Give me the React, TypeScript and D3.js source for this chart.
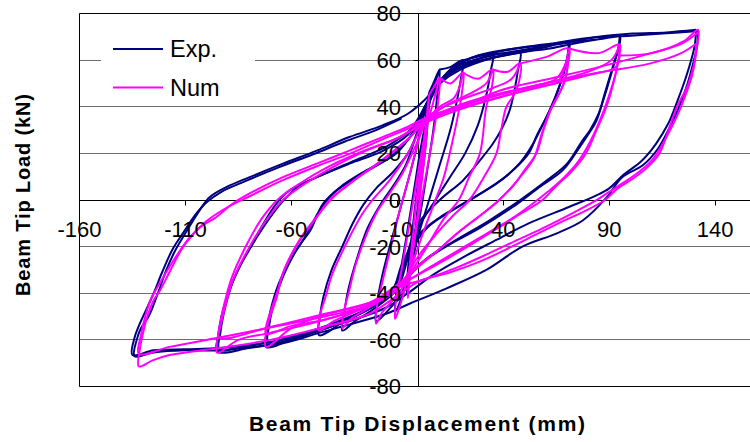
import * as d3 from 'd3'

type Pt = [number, number]

const xTicks = [-160, -110, -60, -10, 40, 90, 140]
const yTicks = [80, 60, 40, 20, 0, -20, -40, -60, -80]
const seriesNames = ['Exp.', 'Num']
const seriesColors = ['#000080', '#ff00ff']

// experimental loops, one array per cycle (positive peak -> negative peak -> next positive peak)
const expCycles: Pt[][] = [
  [[0, 0], [2, 20], [4, 38], [5, 46], [4.5, 36], [3, 20], [0, 0], [-2, -18], [-4, -32], [-5.5, -40], [-5, -30], [-3, -14], [-1, 2], [1.5, 20], [3.5, 36], [5, 46]],
  [[5, 46], [7, 50], [10, 56], [9, 46], [7, 30], [4, 12], [1, -5], [-2, -20], [-5, -33], [-8, -42], [-11, -48], [-10.5, -40], [-8, -28], [-5, -12], [-2, 5], [1, 22], [4, 36], [7, 48], [10, 56]],
  [[10, 56], [15, 57], [21, 60], [20, 52], [18, 42], [15, 30], [10, 15], [5, 0], [0, -15], [-4, -30], [-8, -40], [-15, -48], [-20, -52], [-19.5, -44], [-17, -32], [-13, -18], [-9, -5], [-5, 8], [-1, 22], [3, 38], [8, 48], [15, 55], [21, 60]],
  [[21, 60], [28, 61.5], [35, 62.8], [34, 55], [32, 45], [28, 32], [22, 20], [15, 10], [8, 0], [0, -12], [-5, -25], [-10, -38], [-20, -46], [-30, -52], [-36, -56], [-35, -48], [-33, -38], [-29, -25], [-24, -12], [-18, -2], [-12, 6], [-6, 15], [-1, 28], [4, 42], [12, 52], [22, 58], [35, 62.8]],
  [[35, 62.8], [42, 63], [48, 63.3], [47, 56], [45.5, 48], [43, 38.4], [39, 30], [35, 24], [29, 17], [21, 8.4], [10, 0], [0, -10], [-6, -25], [-10, -36], [-20, -44], [-35, -52], [-47, -58], [-46.5, -50], [-45, -42], [-41, -30], [-36, -20], [-31, -10], [-26, -2], [-20, 5], [-12, 12], [-5, 20], [0, 30], [5, 42], [12, 52], [22, 58], [35, 61], [48, 63.3]],
  [[48, 63.3], [60, 65.5], [71, 67.6], [70, 60], [67, 50], [62, 38.4], [56, 28], [52, 20], [44.6, 12.7], [36.8, 7], [21, -1.6], [10, -7.5], [0, -15], [-8, -28], [-12, -38], [-22, -46], [-35, -52], [-50, -57], [-60, -60], [-72, -63], [-71.5, -56], [-70, -48], [-66, -36], [-60, -25], [-55, -18], [-51, -13], [-45, -1.5], [-37, 5.5], [-24.7, 12.7], [-10.5, 20], [-2, 30], [3, 40], [10, 50], [20, 58], [35, 62], [50, 64.5], [60, 66], [71, 67.6]],
  [[71, 67.6], [70.2, 61], [68, 53], [64, 43], [59, 33], [54, 24], [48, 16], [41, 10], [28, 2], [15, -5], [4, -12], [-5, -24], [-10, -36], [-20, -45], [-35, -51], [-50, -56], [-62, -59], [-71, -61], [-70.5, -54], [-68.5, -45], [-64, -33], [-58, -22], [-53, -15], [-47, -5], [-40, 3], [-28, 10.5], [-14, 18], [-4, 27], [2, 38], [8, 48], [18, 56], [33, 60.5], [50, 63.5], [62, 65], [70, 66.5]],
  [[70, 66.5], [85, 69], [95, 70.5], [94, 64], [92, 58], [88, 46], [84, 34], [80, 28], [76, 22.6], [68, 12.7], [57, 5.5], [44.5, -3], [29, -12], [13, -20], [0, -28], [-8, -36], [-20, -45], [-35, -52], [-50, -57], [-65, -61], [-80, -63.5], [-95, -65], [-94.5, -58], [-93, -50], [-89, -38], [-84, -28], [-79, -20], [-75, -13], [-67, -1.5], [-61, 4], [-48, 9.8], [-32.6, 15.6], [-17, 21], [-5, 28], [2, 38], [8, 48], [15, 56], [25, 61], [40, 64], [55, 66], [70, 67.6], [85, 69], [95, 70.5]],
  [[95, 70.5], [94.3, 65], [92.5, 59], [89, 48], [85, 37], [81, 30], [77, 25], [70, 15.5], [60, 8], [48, 0], [33, -9], [17, -17.5], [4, -25], [-6, -34], [-17, -43], [-33, -50.5], [-48, -55.5], [-64, -60], [-80, -62.5], [-94, -64], [-93.5, -57], [-92, -49], [-88, -36], [-83, -26], [-77, -17], [-72, -10], [-64, -0.5], [-57, 5.5], [-45, 11], [-30, 17], [-15, 23], [-4, 30], [3, 40], [9, 50], [17, 57], [28, 62], [45, 65], [62, 67], [80, 69.5], [100, 70.5], [117, 71.5], [132, 72.5]],
  [[132, 72.5], [131.5, 66], [130, 60], [127, 50], [123, 40], [119, 32], [113, 22], [106, 15], [96, 9.7], [88.7, 1], [77.5, -8.8], [65, -14.4], [49, -20], [32, -30], [13, -38], [-4, -44.4], [-15, -48.7], [-31, -53], [-47, -57], [-62, -61], [-78, -63], [-94, -64.5], [-110, -64.5], [-125, -65.4], [-134, -67], [-133, -60], [-131, -55], [-127.4, -50], [-123, -40], [-119, -30], [-115, -22], [-111, -15.7], [-103, -4], [-98.6, 1.2], [-90.7, 5.5], [-79.7, 9.8], [-64, 15.6], [-48, 21.2], [-32.6, 27], [-17, 32], [-5, 37], [3, 43], [10, 50], [20, 56], [35, 61], [54, 65], [70, 67.6], [85, 70], [101, 71.4], [117, 71.9], [131, 73]],
  [[131, 73], [130.5, 67], [129, 61], [126, 52], [122, 42], [118, 33], [112, 24], [105, 16.5], [97, 11], [90, 5], [84, 2], [71, -3], [52, -10], [37, -17], [21, -24.6], [7, -32], [-5, -40], [-15, -46], [-31, -51.5], [-47, -55.5], [-62, -59.5], [-78, -62], [-94, -63.5], [-110, -64], [-125, -64.5], [-135, -66.5], [-134, -59], [-132, -54], [-129, -48], [-125, -40], [-121, -31], [-116, -21], [-111, -14], [-105, -6], [-100, -1], [-93, 3.5], [-82, 8], [-66, 14], [-50, 19.5], [-35, 25], [-20, 30], [-8, 35]],
]

// numerical loops
const numCycles: Pt[][] = [
  [[0, 0], [2, 18], [4, 35], [5, 45], [4.5, 36], [3, 20], [0.5, 0], [-2, -18], [-4, -32], [-5, -42], [-4.5, -33], [-3, -18], [-1, 0], [1.5, 18], [3.5, 33], [5, 45]],
  [[5, 45], [7, 48], [10, 52.5], [9.5, 44], [8, 34], [5, 18], [2, 3], [-1, -12], [-4, -28], [-7, -40], [-9, -46], [-11, -51], [-10.5, -42], [-8, -30], [-5, -14], [-2, 2], [1, 18], [4, 32], [7, 42], [10, 52.5]],
  [[10, 52.5], [15, 50], [21, 54.7], [20.5, 46], [19, 38], [16, 25], [12, 10], [8, 0], [3, -12], [-2, -25], [-6, -35], [-12, -43], [-17, -48], [-20, -53], [-19.5, -45], [-17, -35], [-13, -20], [-9, -5], [-5, 8], [-1, 22], [3, 33], [10, 40], [17, 44], [21, 54.7]],
  [[21, 54.7], [28, 52], [35, 56], [34.5, 48], [32, 40], [29, 20], [24, 10], [19, 0], [12, -8], [4, -20], [-3, -30], [-10, -38], [-25, -47], [-32, -51], [-36, -55], [-35, -47], [-33, -40], [-29.4, -27], [-20, -5.8], [-13.7, 2.8], [-7.6, 11.4], [-1, 24], [4, 34], [12, 40], [25, 46], [32, 50], [35, 56]],
  [[35, 56], [42, 55], [48, 58.6], [47.5, 51], [45, 45], [41.5, 40], [39, 30], [36.8, 20], [31, 10], [24, 0], [16, -7], [8, -15], [0, -24], [-6, -33], [-12, -40], [-25, -46], [-40, -52], [-47, -56], [-46.7, -50], [-44, -42], [-40.6, -31.6], [-32.6, -16], [-26.4, -5.8], [-21.7, 0], [-13.7, 8.4], [-5, 20], [2, 32], [8, 38], [20, 43], [35, 48], [44, 52], [48, 58.6]],
  [[48, 58.6], [60, 61.3], [71, 65], [70.5, 58], [69, 51], [66, 45], [63, 40], [59, 30], [55.6, 20], [50, 12.7], [44.6, 6], [38, 0], [30, -6], [20, -13], [10, -21], [0, -28], [-8, -35], [-23, -44], [-47, -50], [-60, -55], [-72, -63], [-71.8, -56], [-70, -50], [-67, -42], [-64, -31.6], [-56, -17.4], [-48, -7.4], [-42, 0], [-32.6, 7], [-17, 17], [-5, 26], [4, 34], [20, 41], [40, 46], [55, 49], [65, 52], [70.5, 61]],
  [[70.5, 61], [70.3, 57], [68.5, 50], [65.5, 44], [62, 38], [58, 28], [54.5, 18], [49, 11], [43, 4.5], [37, -1], [28, -7.5], [18, -14.5], [8, -22.5], [-1, -29.5], [-9, -36.5], [-25, -45.5], [-45, -51.5], [-60, -54], [-72, -57.5], [-71.6, -53], [-69.5, -47], [-66.5, -39], [-63, -29], [-55, -15.5], [-47, -6], [-40.5, 1], [-31, 8], [-16, 18], [-4, 27], [4, 35], [22, 40], [40, 44.5], [56, 48.5], [66, 51], [71, 65]],
  [[71, 65], [85, 63], [95, 66.7], [94.3, 60], [92.5, 52], [88.7, 40], [84, 30], [79, 20], [72, 12], [65, 6], [58.5, 0], [48, -6], [38, -11.8], [25, -19], [12, -26], [0, -32], [-8, -36], [-23, -45], [-47, -52], [-70, -57], [-85, -60], [-95, -65.5], [-94.8, -59], [-94, -56], [-91, -45], [-87.6, -34.5], [-79.7, -20], [-72, -8.8], [-64, 0], [-56, 5.5], [-40.6, 14], [-24.7, 21.2], [-9, 27], [4, 34], [20, 40], [38, 45], [60, 50], [80, 55], [91, 60], [95, 66.7]],
  [[95, 66.7], [94.5, 61], [93, 54], [90, 45], [86, 35], [81, 25], [75, 16], [68, 9], [61, 3.5], [54, -1.5], [44, -8], [32, -14.5], [19, -21.5], [6, -28.5], [-4, -34], [-20, -43], [-45, -49], [-70, -54.5], [-94, -59], [-93.6, -53], [-91.5, -44], [-88, -33], [-81, -19], [-74, -8], [-66, 0.5], [-57, 6.5], [-42, 14.5], [-26, 21], [-10, 26.5], [3, 33], [20, 39], [38, 44], [60, 49], [80, 53.5], [93, 57], [95, 62]],
  [[95, 62], [110, 63], [125, 68], [132, 73], [131.5, 66], [130, 58], [127, 49], [122, 40], [118, 30], [113.7, 20], [108, 14], [101, 9], [94, 5], [88, 0], [78, -5], [66, -10], [55, -15], [44, -20], [30, -26], [15, -31], [0, -35], [-10, -41], [-23, -48.7], [-46.7, -55], [-70, -60], [-94, -63.5], [-117.5, -66.5], [-125.5, -68.8], [-132, -71.4], [-131.5, -64], [-130, -57], [-128, -50], [-125, -43], [-122, -38.8], [-117, -30], [-111, -20], [-103, -11.7], [-95.5, -7.4], [-87.6, -1.5], [-79.7, 2.8], [-64, 9.8], [-48, 15.6], [-32.6, 21.2], [-17, 27], [-5, 31.5], [4, 35.5], [20, 40.5], [38.5, 45.6], [62, 50.5], [85, 54.7], [109, 58.5], [124, 63], [131, 67]],
  [[131, 67], [130.5, 60], [129, 53], [126, 45], [122, 36], [117, 27], [111, 18], [104, 12], [96, 7], [90, 3.5], [85, 0.5], [73, -5.5], [60, -11.5], [47, -17], [33, -23], [18, -29], [3, -34], [-8, -37], [-23, -45], [-46.7, -50.4], [-70, -54.7], [-94, -59], [-117.5, -63], [-132, -66], [-131, -58], [-129, -50], [-126, -42], [-121, -34], [-115, -25], [-108, -16], [-100, -9], [-90, -3], [-80, 1.5], [-64, 8.5], [-48, 14.5], [-32, 20], [-17, 26], [-4, 31], [5, 35], [20, 40], [38.5, 47], [62, 52], [85, 57], [109, 62.8], [124, 67], [132, 72]],
]

const W = 750
const H = 442
const FONT = '"Liberation Sans", Arial, sans-serif'

const x = d3.scaleLinear().domain([-160, 160]).range([79.5, 757.5])
const y = d3.scaleLinear().domain([-80, 80]).range([386.5, 13.5])
const crisp = (v: number) => Math.floor(v) + 0.5

const line = d3
  .line<Pt>()
  .x((d) => x(d[0]))
  .y((d) => y(d[1]))
  .curve(d3.curveCatmullRom.alpha(0.5))

export default function App() {
  const left = crisp(x(-160))
  const top = crisp(y(80))
  const bottom = crisp(y(-80))
  const x0 = crisp(x(0))
  const y0 = crisp(y(0))

  return (
    <svg
      width={W}
      height={H}
      style={{ position: 'absolute', left: 0, top: 0, background: '#fff' }}
      fontFamily={FONT}
    >
      <rect x={0} y={0} width={W} height={H} fill="#fff" />

      {/* gridlines */}
      {yTicks.map((t) => (
        <line key={t} x1={left} x2={W} y1={crisp(y(t))} y2={crisp(y(t))} stroke="#6e6e6e" strokeWidth={1} />
      ))}

      {/* plot border */}
      <line x1={left} x2={W} y1={top} y2={top} stroke="#000" />
      <line x1={left} x2={W} y1={bottom} y2={bottom} stroke="#000" />
      <line x1={left} x2={left} y1={top} y2={bottom} stroke="#000" />

      {/* legend */}
      <rect x={101} y={27} width={154} height={77} fill="#fff" />

      {/* axes through the origin */}
      <line x1={x0} x2={x0} y1={top} y2={bottom} stroke="#000" />
      <line x1={left} x2={W} y1={y0} y2={y0} stroke="#000" />
      {xTicks.map((t) => (
        <line key={t} x1={crisp(x(t))} x2={crisp(x(t))} y1={y0} y2={y0 + 5} stroke="#000" />
      ))}
      {yTicks.map((t) => (
        <line key={t} x1={x0 - 5} x2={x0} y1={crisp(y(t))} y2={crisp(y(t))} stroke="#000" />
      ))}

      {/* data */}
      {[expCycles, numCycles].map((cycles, si) => (
        <g key={si} fill="none" stroke={seriesColors[si]} strokeWidth={2} strokeLinejoin="round">
          {cycles.map((c, i) => (
            <path key={i} d={line(c) ?? ''} />
          ))}
        </g>
      ))}

      {/* tick labels */}
      <g fontSize={22} fill="#000">
        {xTicks.map((t) => (
          <text key={t} x={x(t)} y={237} textAnchor="middle">
            {t}
          </text>
        ))}
        {yTicks.map((t) => (
          <text key={t} x={401} y={y(t)} dy="0.36em" textAnchor="end">
            {t}
          </text>
        ))}
      </g>

      {/* legend entries */}
      {seriesNames.map((name, i) => (
        <g key={name}>
          <line x1={113} x2={163} y1={49 + i * 38.5} y2={49 + i * 38.5} stroke={seriesColors[i]} strokeWidth={2} />
          <text x={170} y={57 + i * 38.5} fontSize={23.5} fill="#000">
            {name}
          </text>
        </g>
      ))}

      {/* axis titles */}
      <text x={417} y={431} textAnchor="middle" fontSize={21} fontWeight="bold" textLength={336} lengthAdjust="spacing">
        Beam Tip Displacement (mm)
      </text>
      <text
        transform="translate(30,195) rotate(-90)"
        textAnchor="middle"
        fontSize={20}
        fontWeight="bold"
        textLength={202}
        lengthAdjust="spacing"
      >
        Beam Tip Load (kN)
      </text>
    </svg>
  )
}
